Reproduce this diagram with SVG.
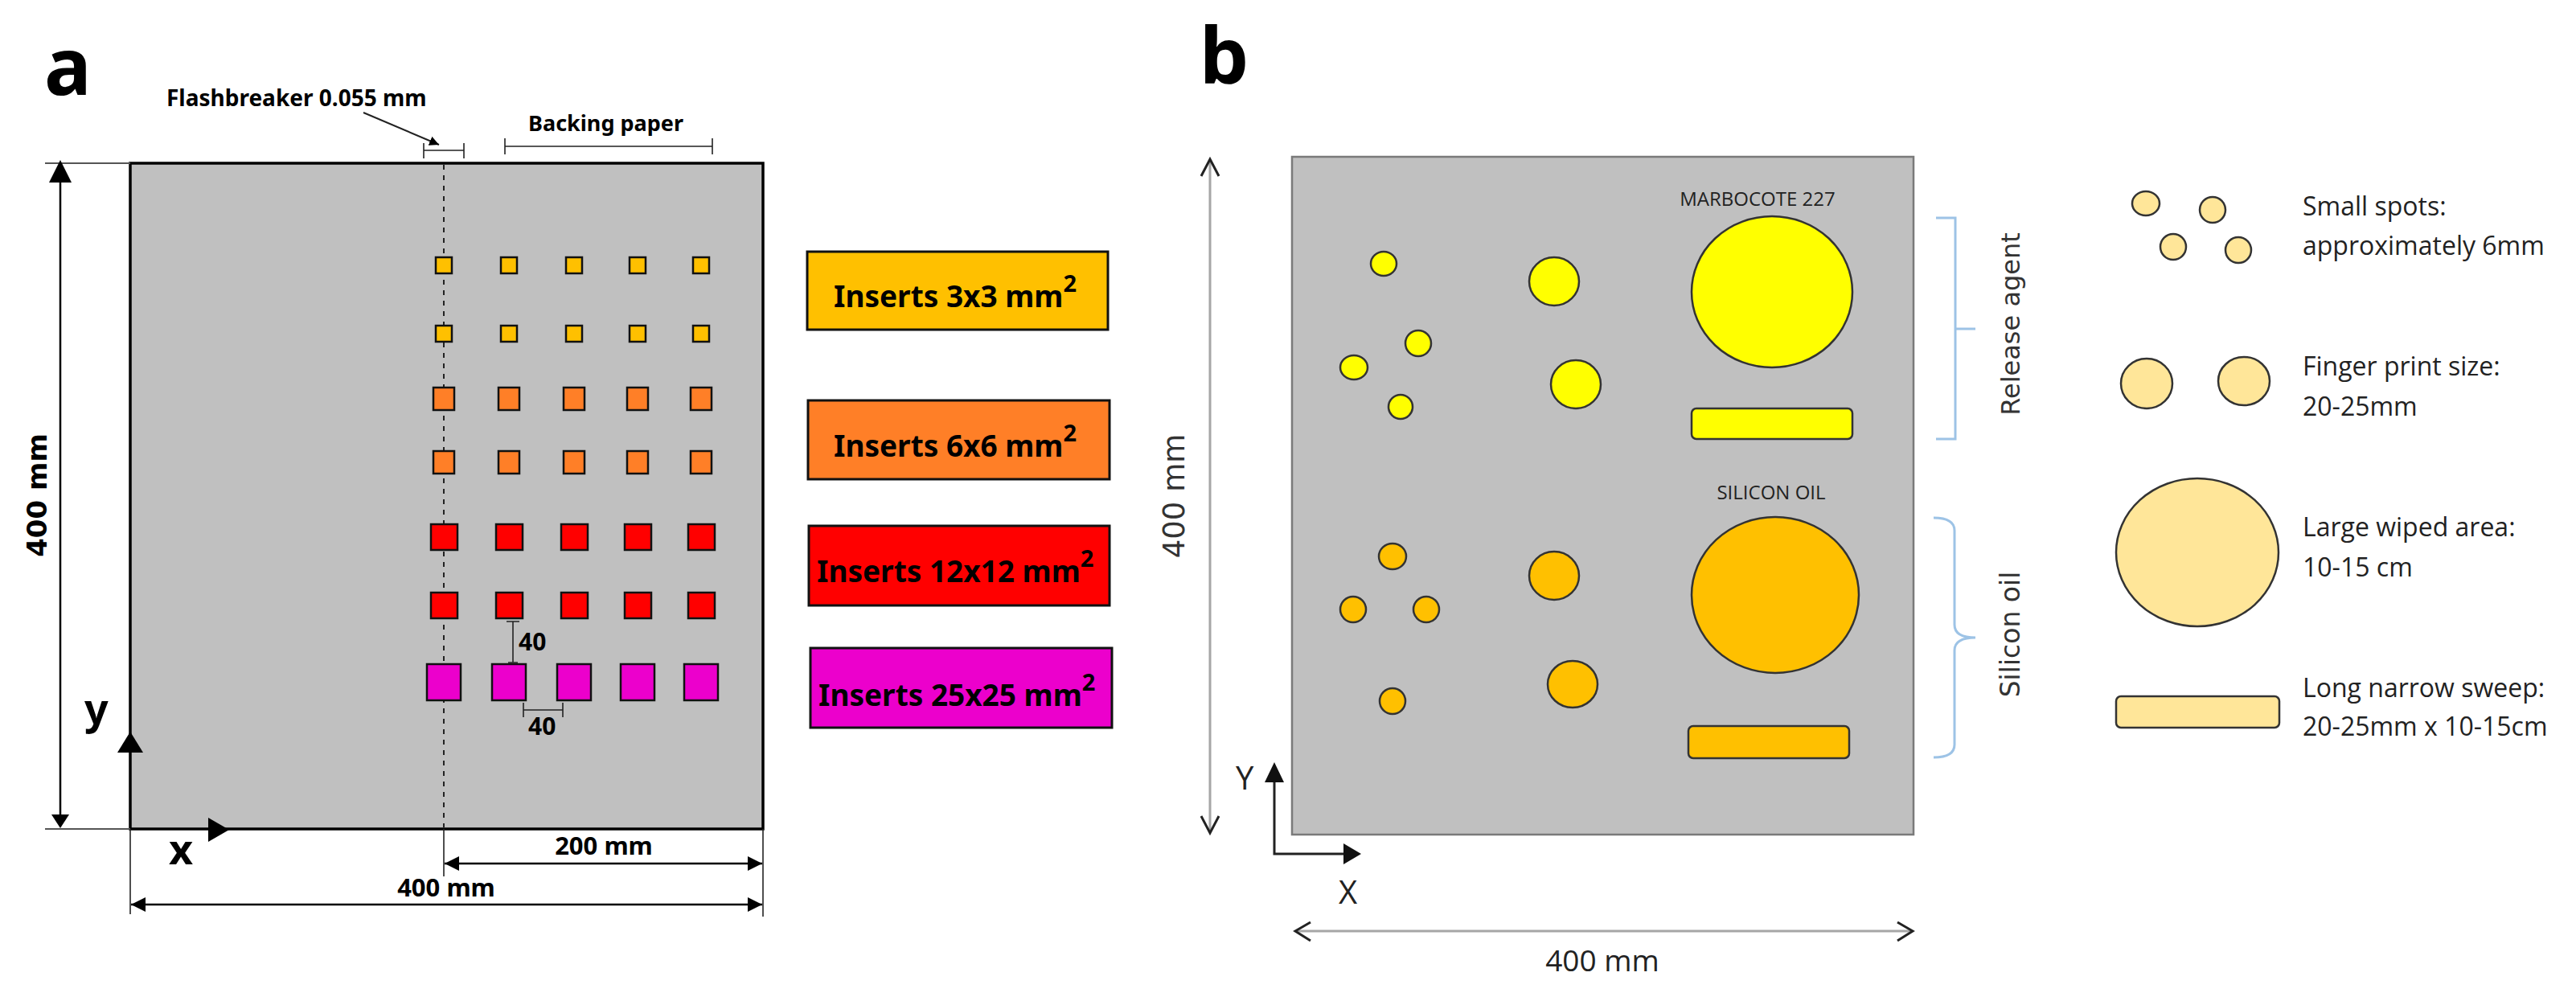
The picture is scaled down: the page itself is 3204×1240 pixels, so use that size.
<svg xmlns="http://www.w3.org/2000/svg" width="3204" height="1240" viewBox="0 0 3204 1240">
<style>
.bg{fill:#ffffff}
.pa{font-family:"Noto Sans","Open Sans","DejaVu Sans",sans-serif;font-weight:bold;fill:#000}
.pb{font-family:"Open Sans","Noto Sans",sans-serif;fill:#222}
.dv{font-family:"DejaVu Sans","Noto Sans",sans-serif;fill:#333}
.sq{stroke:#111;stroke-width:2.5}
.c3{fill:#ffc000}.c6{fill:#ff7f27}.c12{fill:#ff0000}.c25{fill:#ec00cc}
.dim{stroke:#000;stroke-width:2.5;fill:none}
.thin{stroke:#222;stroke-width:1.6;fill:none}
.box{stroke:#111;stroke-width:3}
.spotY{fill:#ffff00;stroke:#333;stroke-width:2.5}
.spotO{fill:#ffc000;stroke:#333;stroke-width:2.5}
.spotL{fill:#ffe699;stroke:#333;stroke-width:2.5}
.chev{stroke:#222;stroke-width:3;fill:none;stroke-linejoin:miter}
.grayline{stroke:#a6a6a6;stroke-width:3;fill:none}
.brk{stroke:#9dc3e6;stroke-width:3;fill:none}
</style>
<defs>
<marker id="arrF" markerUnits="userSpaceOnUse" markerWidth="18" markerHeight="18" refX="18" refY="9" orient="auto-start-reverse" viewBox="0 0 18 18">
<path d="M0,0 L18,9 L0,18 z" fill="#000"/>
</marker>
<marker id="arrS" markerUnits="userSpaceOnUse" markerWidth="12" markerHeight="12" refX="12" refY="6" orient="auto" viewBox="0 0 12 12">
<path d="M0,0 L12,6 L0,12 z" fill="#000"/>
</marker>
</defs>
<rect class="bg" x="0" y="0" width="3204" height="1240"/>

<!-- ===== Panel a ===== -->
<g id="panel-a">
<text class="pa" x="55" y="118" font-size="98">a</text>
<rect id="plate-a" x="162" y="203" width="787" height="828" fill="#c0c0c0" stroke="#000" stroke-width="3.5"/>
</g>

<g id="connectors-a">
<line x1="56" y1="203" x2="162" y2="203" stroke="#555" stroke-width="2"/>
<line x1="56" y1="1031" x2="162" y2="1031" stroke="#555" stroke-width="2"/>
<line x1="75" y1="224" x2="75" y2="1016" class="dim"/>
<polygon points="75,199 89,227 61,227" fill="#000"/>
<polygon points="75,1030 64,1013 86,1013" fill="#000"/>
<line x1="552" y1="205" x2="552" y2="1029" stroke="#222" stroke-width="2" stroke-dasharray="6 7"/>
<line x1="552" y1="1031" x2="552" y2="1090" class="thin"/>
<line x1="162" y1="1031" x2="162" y2="1137" class="thin"/>
<line x1="949" y1="1031" x2="949" y2="1140" class="thin"/>
<polygon points="162,910 178,936 146,936" fill="#000"/>
<polygon points="285,1032 259,1017 259,1047" fill="#000"/>
<line x1="553" y1="1074" x2="948" y2="1074" class="dim" marker-start="url(#arrF)" marker-end="url(#arrF)"/>
<line x1="163" y1="1125" x2="948" y2="1125" class="dim" marker-start="url(#arrF)" marker-end="url(#arrF)"/>
<path d="M527,187 H577 M527,178 V197 M577,178 V197" class="thin" stroke-width="2.5"/>
<path d="M628,182 H886 M628,172 V192 M886,172 V192" class="thin" stroke-width="2.5"/>
<line x1="452" y1="140" x2="546" y2="180" stroke="#222" stroke-width="2" marker-end="url(#arrS)"/>
<path d="M638,773 V824 M630,773 H646 M632,824 H644" class="thin" stroke-width="2.5"/>
<path d="M651,883 H700 M651,874 V892 M700,874 V892" class="thin" stroke-width="2.5"/>
</g>

<g id="dim-labels-a">
<text class="pa" x="207" y="132" font-size="28">Flashbreaker 0.055 mm</text>
<text class="pa" x="657" y="163" font-size="27">Backing paper</text>
<text font-family="DejaVu Sans, Noto Sans, sans-serif" font-weight="bold" fill="#000" font-size="34" text-anchor="middle" transform="translate(58,616) rotate(-90)">400 mm</text>
<text class="pa" x="105" y="900" font-size="52">y</text>
<text class="pa" x="210" y="1075" font-size="52">x</text>
<text class="pa" x="751" y="1063" font-size="31" text-anchor="middle">200 mm</text>
<text class="pa" x="555" y="1115" font-size="31" text-anchor="middle">400 mm</text>
<text class="pa" x="645" y="809" font-size="30">40</text>
<text class="pa" x="657" y="914" font-size="30">40</text>
</g>

<g id="inserts">
<g id="row1" class="sq c3">
<rect x="542" y="320" width="20" height="20"/><rect x="623" y="320" width="20" height="20"/><rect x="704" y="320" width="20" height="20"/><rect x="783" y="320" width="20" height="20"/><rect x="862" y="320" width="20" height="20"/>
</g>
<g id="row2" class="sq c3">
<rect x="542" y="405" width="20" height="20"/><rect x="623" y="405" width="20" height="20"/><rect x="704" y="405" width="20" height="20"/><rect x="783" y="405" width="20" height="20"/><rect x="862" y="405" width="20" height="20"/>
</g>
<g id="row3" class="sq c6">
<rect x="539" y="482" width="26" height="28"/><rect x="620" y="482" width="26" height="28"/><rect x="701" y="482" width="26" height="28"/><rect x="780" y="482" width="26" height="28"/><rect x="859" y="482" width="26" height="28"/>
</g>
<g id="row4" class="sq c6">
<rect x="539" y="561" width="26" height="28"/><rect x="620" y="561" width="26" height="28"/><rect x="701" y="561" width="26" height="28"/><rect x="780" y="561" width="26" height="28"/><rect x="859" y="561" width="26" height="28"/>
</g>
<g id="row5" class="sq c12">
<rect x="536" y="652" width="33" height="32"/><rect x="617" y="652" width="33" height="32"/><rect x="698" y="652" width="33" height="32"/><rect x="777" y="652" width="33" height="32"/><rect x="856" y="652" width="33" height="32"/>
</g>
<g id="row6" class="sq c12">
<rect x="536" y="737" width="33" height="32"/><rect x="617" y="737" width="33" height="32"/><rect x="698" y="737" width="33" height="32"/><rect x="777" y="737" width="33" height="32"/><rect x="856" y="737" width="33" height="32"/>
</g>
<g id="row7" class="sq c25">
<rect x="531" y="826" width="42" height="45"/><rect x="612" y="826" width="42" height="45"/><rect x="693" y="826" width="42" height="45"/><rect x="772" y="826" width="42" height="45"/><rect x="851" y="826" width="42" height="45"/>
</g>
</g>

<g id="legend-a">
<g id="leg3"><rect class="box c3" x="1004" y="313" width="374" height="97"/>
<text class="pa" x="1037" y="382" font-size="37">Inserts 3x3 mm<tspan font-size="29" dy="-19">2</tspan></text></g>
<g id="leg6"><rect class="box c6" x="1005" y="498" width="375" height="98"/>
<text class="pa" x="1037" y="568" font-size="37">Inserts 6x6 mm<tspan font-size="29" dy="-19">2</tspan></text></g>
<g id="leg12"><rect class="box c12" x="1006" y="654" width="374" height="99"/>
<text class="pa" x="1016" y="724" font-size="37">Inserts 12x12 mm<tspan font-size="29" dy="-19">2</tspan></text></g>
<g id="leg25"><rect class="box c25" x="1008" y="806" width="375" height="99"/>
<text class="pa" x="1018" y="878" font-size="37">Inserts 25x25 mm<tspan font-size="29" dy="-19">2</tspan></text></g>
</g>

<!-- ===== Panel b ===== -->
<g id="panel-b">
<text class="pa" x="1492" y="104" font-size="97">b</text>
<rect id="plate-b" x="1607" y="195" width="773" height="843" fill="#c0c0c0" stroke="#7a7a7a" stroke-width="2.5"/>
<text class="pb" x="2186" y="256" font-size="24" fill="#333" text-anchor="middle">MARBOCOTE 227</text>
<text class="pb" x="2203" y="621" font-size="24" fill="#333" text-anchor="middle">SILICON OIL</text>
</g>

<g id="release-agent-spots">
<ellipse class="spotY" cx="1721" cy="328" rx="16" ry="15"/>
<ellipse class="spotY" cx="1764" cy="427" rx="16" ry="16"/>
<ellipse class="spotY" cx="1684" cy="457" rx="17" ry="15"/>
<ellipse class="spotY" cx="1742" cy="506" rx="15" ry="15"/>
<ellipse class="spotY" cx="1933" cy="350" rx="31" ry="30"/>
<ellipse class="spotY" cx="1960" cy="478" rx="31" ry="30"/>
<ellipse class="spotY" cx="2204" cy="363" rx="100" ry="94"/>
<rect class="spotY" x="2104" y="508" width="200" height="38" rx="6"/>
</g>

<g id="silicon-oil-spots">
<ellipse class="spotO" cx="1732" cy="692" rx="17" ry="16"/>
<ellipse class="spotO" cx="1683" cy="758" rx="16" ry="16"/>
<ellipse class="spotO" cx="1774" cy="758" rx="16" ry="16"/>
<ellipse class="spotO" cx="1732" cy="872" rx="16" ry="16"/>
<ellipse class="spotO" cx="1933" cy="716" rx="31" ry="30"/>
<ellipse class="spotO" cx="1956" cy="851" rx="31" ry="29"/>
<ellipse class="spotO" cx="2208" cy="740" rx="104" ry="97"/>
<rect class="spotO" x="2100" y="903" width="200" height="40" rx="6"/>
</g>

<g id="connectors-b">
<line x1="1505" y1="199" x2="1505" y2="1035" class="grayline" stroke-width="2.5"/>
<polyline class="chev" points="1494,219 1505,198 1516,219"/>
<polyline class="chev" points="1494,1015 1505,1036 1516,1015"/>
<line x1="1612" y1="1158" x2="2377" y2="1158" class="grayline"/>
<polyline class="chev" points="1630,1147 1611,1158 1630,1170"/>
<polyline class="chev" points="2360,1147 2379,1158 2360,1170"/>
<path d="M1585,972 V1062 H1672" stroke="#222" stroke-width="3" fill="none"/>
<polygon points="1585,948 1597,973 1573,973" fill="#111"/>
<polygon points="1693,1062 1671,1049 1671,1075" fill="#111"/>
<path class="brk" d="M2408,271 H2432 V546 H2408 M2432,409 H2457"/>
<path class="brk" d="M2405,644 Q2431,644 2431,660 V777 Q2431,793 2457,793 Q2431,793 2431,809 V926 Q2431,942 2405,942"/>
</g>

<g id="labels-b">
<text class="dv" font-size="37" text-anchor="middle" transform="translate(1473,617) rotate(-90)">400 mm</text>
<text class="pb" x="1993" y="1208" font-size="37" text-anchor="middle">400 mm</text>
<text class="pb" x="1537" y="982" font-size="40">Y</text>
<text class="pb" x="1665" y="1124" font-size="40">X</text>
<text class="dv" font-size="32" text-anchor="middle" transform="translate(2512,403) rotate(-90)">Release agent</text>
<text class="dv" font-size="33" text-anchor="middle" transform="translate(2512,789) rotate(-90)">Silicon oil</text>
</g>

<g id="legend-b">
<g id="leg-small">
<ellipse class="spotL" cx="2669" cy="253" rx="17" ry="15"/>
<ellipse class="spotL" cx="2752" cy="261" rx="16" ry="16"/>
<ellipse class="spotL" cx="2703" cy="307" rx="16" ry="16"/>
<ellipse class="spotL" cx="2784" cy="311" rx="16" ry="16"/>
<text class="pb" x="2864" y="268" font-size="32">Small spots:</text>
<text class="pb" x="2864" y="317" font-size="32">approximately 6mm</text>
</g>
<g id="leg-finger">
<ellipse class="spotL" cx="2670" cy="477" rx="32" ry="31"/>
<ellipse class="spotL" cx="2791" cy="474" rx="32" ry="30"/>
<text class="pb" x="2864" y="467" font-size="32">Finger print size:</text>
<text class="pb" x="2864" y="517" font-size="32">20-25mm</text>
</g>
<g id="leg-large">
<ellipse class="spotL" cx="2733" cy="687" rx="101" ry="92"/>
<text class="pb" x="2864" y="667" font-size="32">Large wiped area:</text>
<text class="pb" x="2864" y="717" font-size="32">10-15 cm</text>
</g>
<g id="leg-sweep">
<rect class="spotL" x="2632" y="866" width="203" height="39" rx="6"/>
<text class="pb" x="2864" y="867" font-size="32">Long narrow sweep:</text>
<text class="pb" x="2864" y="915" font-size="32">20-25mm x 10-15cm</text>
</g>
</g>
</svg>
